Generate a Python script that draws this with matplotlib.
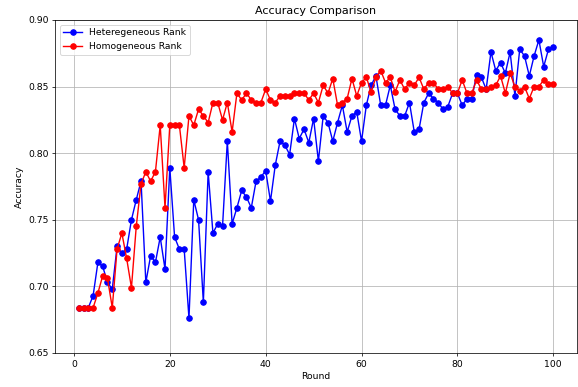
#!/usr/bin/env python3
"""Accuracy comparison of heterogeneous vs homogeneous rank over 100 rounds."""
import matplotlib

matplotlib.use("Agg")  # headless
import matplotlib.pyplot as plt  # noqa: E402

rounds = list(range(1, 101))

hetero_acc = [
    0.684, 0.684, 0.684, 0.693, 0.718, 0.715, 0.703, 0.698, 0.730, 0.725,
    0.728, 0.750, 0.765, 0.779, 0.703, 0.723, 0.718, 0.737, 0.713, 0.789,
    0.737, 0.728, 0.728, 0.676, 0.765, 0.750, 0.688, 0.786, 0.740, 0.747,
    0.745, 0.809, 0.747, 0.759, 0.772, 0.767, 0.759, 0.779, 0.782, 0.787,
    0.764, 0.791, 0.809, 0.806, 0.799, 0.826, 0.811, 0.818, 0.808, 0.826,
    0.794, 0.828, 0.823, 0.809, 0.823, 0.836, 0.816, 0.828, 0.831, 0.809,
    0.836, 0.851, 0.858, 0.836, 0.836, 0.851, 0.833, 0.828, 0.828, 0.838,
    0.816, 0.818, 0.838, 0.845, 0.841, 0.838, 0.833, 0.835, 0.845, 0.845,
    0.836, 0.841, 0.841, 0.859, 0.857, 0.848, 0.876, 0.862, 0.868, 0.860,
    0.876, 0.843, 0.878, 0.873, 0.858, 0.873, 0.885, 0.865, 0.878, 0.880,
]

homo_acc = [
    0.684, 0.684, 0.684, 0.684, 0.695, 0.708, 0.706, 0.684, 0.728, 0.740,
    0.721, 0.699, 0.745, 0.777, 0.786, 0.779, 0.786, 0.821, 0.759, 0.821,
    0.821, 0.821, 0.789, 0.828, 0.821, 0.833, 0.828, 0.823, 0.838, 0.838,
    0.825, 0.838, 0.816, 0.845, 0.840, 0.845, 0.840, 0.838, 0.838, 0.848,
    0.840, 0.838, 0.843, 0.843, 0.843, 0.845, 0.845, 0.845, 0.840, 0.845,
    0.838, 0.851, 0.845, 0.856, 0.836, 0.838, 0.841, 0.856, 0.843, 0.853,
    0.857, 0.846, 0.857, 0.862, 0.853, 0.857, 0.846, 0.855, 0.848, 0.853,
    0.851, 0.857, 0.848, 0.853, 0.853, 0.848, 0.848, 0.850, 0.845, 0.845,
    0.855, 0.845, 0.845, 0.855, 0.848, 0.848, 0.850, 0.851, 0.858, 0.845,
    0.860, 0.850, 0.847, 0.850, 0.841, 0.850, 0.850, 0.855, 0.852, 0.852,
]


def main() -> None:
    dpi = 67
    fig = plt.figure(figsize=(578 / dpi, 387 / dpi), dpi=dpi)
    ax = fig.add_axes((55 / 578, 1 - 353 / 387, 522 / 578, 333 / 387))

    ax.plot(rounds, hetero_acc, color="blue", marker="o", label="Heteregeneous Rank")
    ax.plot(rounds, homo_acc, color="red", marker="o", label="Homogeneous Rank")

    ax.set_ylim(0.65, 0.90)
    ax.set_title("Accuracy Comparison")
    ax.set_xlabel("Round")
    ax.set_ylabel("Accuracy")
    ax.grid(True)
    ax.legend(loc="upper left")

    fig.savefig("out.png", dpi=dpi)
    plt.close(fig)


if __name__ == "__main__":
    main()
